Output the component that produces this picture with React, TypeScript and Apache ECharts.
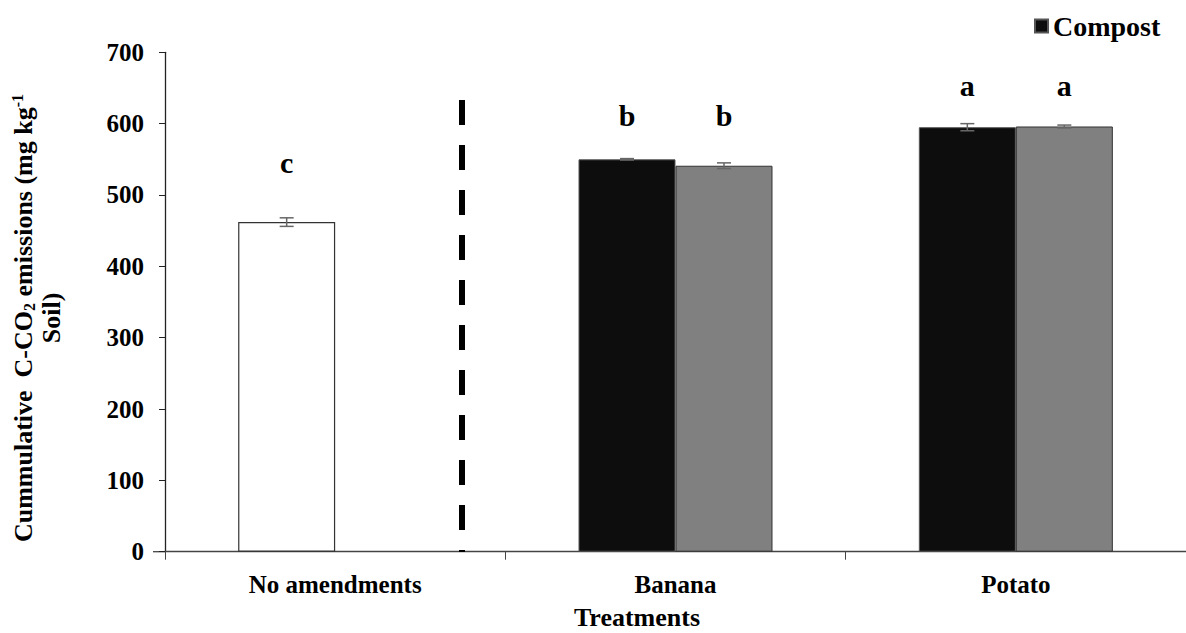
import React, { useEffect, useRef } from 'react';
import * as echarts from 'echarts';

const categories = ['No amendments', 'Banana', 'Potato'];
const compostValues = [462, 550, 595];
const otherValues: (number | string)[] = ['-', 541, 596];
const compostErrors = [6, 1, 5];
const otherErrors = [0, 4, 2];
const compostLetters = ['c', 'b', 'a'];
const otherLetters = ['', 'b', 'a'];
const compostLetterAt = [545, 612, 654];
const otherLetterAt = [0, 612, 654];
const yMin = 0;
const yMax = 700;
const yInterval = 100;

const FONT = '"Liberation Serif", "Times New Roman", serif';
const GAP = 0.43;

export default function App() {
  const ref = useRef<HTMLDivElement>(null);
  useEffect(() => {
    if (!ref.current) return;
    const chart = echarts.init(ref.current, undefined, { renderer: 'svg' });

    const errRows: number[][] = [];
    categories.forEach((_, i) => {
      if (typeof compostValues[i] === 'number') errRows.push([i, compostValues[i], compostErrors[i], -1]);
      if (typeof otherValues[i] === 'number') errRows.push([i, otherValues[i] as number, otherErrors[i], 1]);
    });
    const letterRows: any[] = [];
    categories.forEach((_, i) => {
      if (compostLetters[i]) letterRows.push([i, compostLetterAt[i], -1, compostLetters[i]]);
      if (otherLetters[i]) letterRows.push([i, otherLetterAt[i], 1, otherLetters[i]]);
    });

    const slotX = (api: any, idx: number, v: number, slot: number) => {
      const catW = api.size([1, 0])[0];
      const barW = (catW * (1 - GAP)) / 2;
      const c = api.coord([idx, v]);
      return c[0] + (slot * barW) / 2;
    };

    chart.setOption({
      animation: false,
      backgroundColor: '#fff',
      grid: { left: 165, right: 0, top: 52.3, bottom: 81.3, containLabel: false },
      legend: {
        data: [{ name: 'Compost', icon: 'rect' }],
        left: 1029,
        top: 7,
        itemWidth: 13,
        itemHeight: 13,
        itemGap: 5,
        textStyle: { fontFamily: FONT, fontWeight: 'bold', fontSize: 28, color: '#000' },
      },
      xAxis: {
        type: 'category',
        data: categories,
        axisLine: { show: true, lineStyle: { color: '#444', width: 1.3 } },
        axisTick: { show: true, length: 8, lineStyle: { color: '#444' } },
        axisLabel: { fontFamily: FONT, fontWeight: 'bold', fontSize: 25, color: '#000', margin: 20 },
        splitLine: { show: false },
      },
      yAxis: {
        type: 'value',
        min: yMin,
        max: yMax,
        interval: yInterval,
        axisLine: { show: true, lineStyle: { color: '#222', width: 1.3 } },
        axisTick: { show: true, length: 6, lineStyle: { color: '#222' } },
        axisLabel: { fontFamily: FONT, fontWeight: 'bold', fontSize: 25, color: '#000', margin: 21 },
        splitLine: { show: false },
      },
      graphic: [
        {
          type: 'line',
          shape: { x1: 153, y1: 551.7, x2: 165, y2: 551.7 },
          style: { stroke: '#444', lineWidth: 1.3 },
        },
        {
          type: 'line',
          shape: { x1: 462, y1: 100, x2: 462, y2: 552 },
          style: { stroke: '#000', lineWidth: 6, lineDash: [25, 20] },
          z: 10,
        },
        {
          type: 'text',
          x: 637,
          y: 617,
          style: {
            text: 'Treatments',
            fontFamily: FONT,
            fontWeight: 'bold',
            fontSize: 26,
            fill: '#000',
            align: 'center',
            verticalAlign: 'middle',
          },
        },
        {
          type: 'text',
          x: 37,
          y: 318,
          rotation: Math.PI / 2,
          style: {
            text: '{n|Cummulative  C-CO}{sub|2}{n| emissions (mg kg}{sup|-1}\n{n|Soil)}',
            fontFamily: FONT,
            fontWeight: 'bold',
            fontSize: 26,
            fill: '#000',
            align: 'center',
            verticalAlign: 'middle',
            rich: {
              n: { fontFamily: FONT, fontWeight: 'bold', fontSize: 26, lineHeight: 28, fill: '#000' },
              sub: { fontFamily: FONT, fontWeight: 'bold', fontSize: 16, lineHeight: 26, verticalAlign: 'bottom', fill: '#000' },
              sup: { fontFamily: FONT, fontWeight: 'bold', fontSize: 16, lineHeight: 26, verticalAlign: 'top', fill: '#000' },
            },
          },
        },
      ],
      series: [
        {
          name: 'Compost',
          type: 'bar',
          barGap: 0,
          barCategoryGap: '43%',
          data: compostValues.map((v, i) =>
            i === 0
              ? { value: v, itemStyle: { color: '#fff', borderColor: '#333', borderWidth: 1.2 } }
              : v
          ),
          itemStyle: { color: '#0d0d0d', borderColor: '#555', borderWidth: 1 },
        },
        {
          name: 'Residue',
          type: 'bar',
          data: otherValues,
          itemStyle: { color: '#808080', borderColor: '#333', borderWidth: 1 },
        },
        {
          name: 'err',
          type: 'custom',
          z: 5,
          data: errRows,
          encode: { x: 0, y: 1 },
          renderItem: (params: any, api: any) => {
            const idx = api.value(0);
            const v = api.value(1);
            const e = api.value(2);
            const slot = api.value(3);
            const x = slotX(api, idx, v, slot);
            const yHi = api.coord([idx, v + e])[1];
            const yLo = api.coord([idx, v - e])[1];
            const cap = 7;
            const st = { stroke: '#666', lineWidth: 1.5 };
            return {
              type: 'group',
              children: [
                { type: 'line', shape: { x1: x, y1: yHi, x2: x, y2: yLo }, style: st },
                { type: 'line', shape: { x1: x - cap, y1: yHi, x2: x + cap, y2: yHi }, style: st },
                { type: 'line', shape: { x1: x - cap, y1: yLo, x2: x + cap, y2: yLo }, style: st },
              ],
            };
          },
        },
        {
          name: 'letters',
          type: 'custom',
          z: 6,
          data: letterRows,
          encode: { x: 0, y: 1 },
          renderItem: (params: any, api: any) => {
            const row = letterRows[params.dataIndex];
            const idx = row[0];
            const v = row[1];
            const slot = row[2];
            const x = slotX(api, idx, v, slot);
            const y = api.coord([idx, v])[1];
            return {
              type: 'text',
              x,
              y,
              style: {
                text: row[3],
                fontFamily: FONT,
                fontWeight: 'bold',
                fontSize: 30,
                fill: '#000',
                align: 'center',
                verticalAlign: 'middle',
              },
            };
          },
        },
      ],
    });
    return () => chart.dispose();
  }, []);
  return <div ref={ref} style={{ position: 'fixed', left: 0, top: 0, width: 1186, height: 633 }} />;
}
